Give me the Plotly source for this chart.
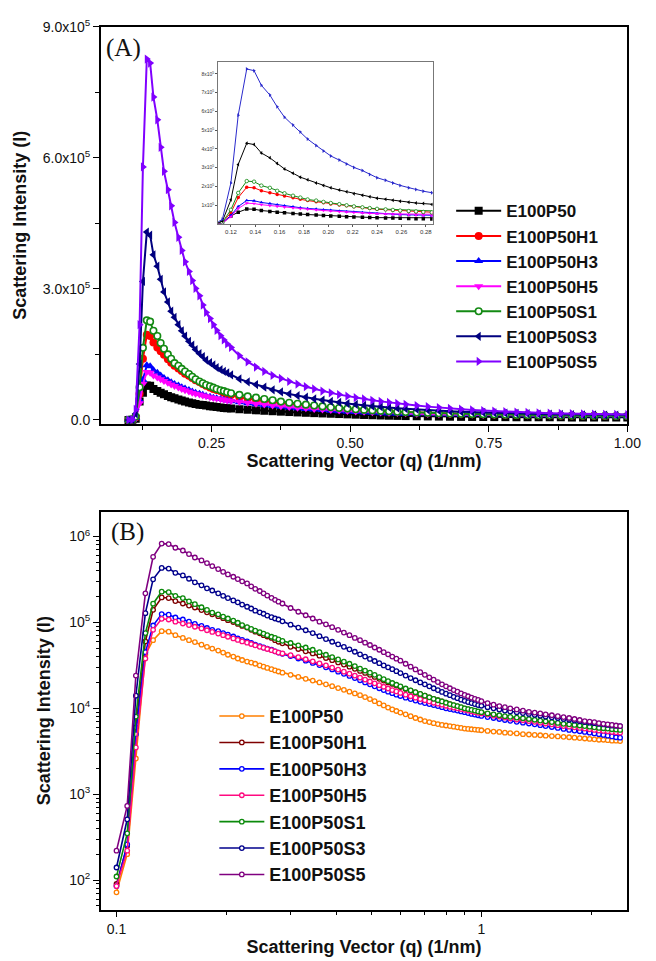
import plotly.graph_objects as go

# ---------------- data ----------------
Q = [0.100, 0.107, 0.113, 0.120, 0.126, 0.133, 0.139, 0.145, 0.152, 0.158,
     0.164, 0.171, 0.177, 0.183, 0.190, 0.196, 0.202, 0.209, 0.215, 0.221,
     0.228, 0.234, 0.240, 0.247, 0.253, 0.259, 0.266, 0.272, 0.278, 0.285,
     0.300, 0.315, 0.330, 0.345, 0.360, 0.375, 0.390, 0.405, 0.420, 0.435,
     0.450, 0.465, 0.480, 0.495, 0.510, 0.525, 0.540, 0.555, 0.570, 0.585,
     0.600, 0.620, 0.640, 0.660, 0.680, 0.700, 0.720, 0.740, 0.760, 0.780,
     0.800, 0.820, 0.840, 0.860, 0.880, 0.900, 0.920, 0.940, 0.960, 0.980,
     1.000,
     1.04, 1.08, 1.12, 1.16, 1.20, 1.25, 1.30, 1.35, 1.40, 1.45,
     1.50, 1.56, 1.62, 1.68, 1.74, 1.80, 1.86, 1.92, 1.98, 2.04,
     2.10, 2.16, 2.22, 2.28, 2.34, 2.40]

# intensities in thousands of counts
I_E100P50 = [0.072, 0.2, 2.6, 42, 62, 79, 78, 71, 66, 62,
             59, 55, 52, 49.5, 47, 44.5, 42, 40, 38, 36.5,
             35, 34, 33, 31.5, 30.5, 29.5, 28.5, 27.6, 26.8, 26,
             24.5, 23.2, 22, 21, 20, 19, 18.1, 17.2, 16.4, 15.6,
             14.9, 14.2, 13.5, 12.8, 12.1, 11.4, 10.8, 10.2, 9.7, 9.3,
             8.9, 8.5, 8.1, 7.7, 7.4, 7.1, 6.9, 6.7, 6.55, 6.4,
             6.3, 6.2, 6.1, 6.0, 5.9, 5.8, 5.75, 5.7, 5.65, 5.6,
             5.55,
             5.45, 5.35, 5.3, 5.2, 5.15, 5.1, 5.0, 4.95, 4.9, 4.85,
             4.8, 4.75, 4.7, 4.65, 4.6, 4.55, 4.5, 4.45, 4.4, 4.35,
             4.3, 4.3, 4.25, 4.2, 4.2, 4.15]
I_H1 = [0.09, 0.25, 6, 60, 140, 195, 192, 177, 166, 157,
        149, 139, 131, 124, 118, 112, 106, 101, 96, 91,
        87, 82, 78, 74.5, 71, 68.5, 66, 62, 59.5, 57,
        52, 49, 46, 43.5, 41, 38.5, 36.3, 34.2, 32.3, 30.5,
        28.8, 27.2, 25.8, 24.5, 23.2, 22, 21, 20, 19.2, 18.4,
        17.7, 16.8, 16, 15.3, 14.6, 14, 13.4, 12.9, 12.4, 12,
        11.6, 11.2, 10.8, 10.5, 10.2, 9.9, 9.7, 9.5, 9.3, 9.1,
        8.9,
        8.6, 8.35, 8.1, 7.9, 7.7, 7.5, 7.35, 7.2, 7.05, 6.9,
        6.75, 6.6, 6.45, 6.3, 6.2, 6.1, 6.0, 5.9, 5.8, 5.7,
        5.65, 5.6, 5.5, 5.45, 5.4, 5.35]
I_H3 = [0.085, 0.26, 5, 45, 92, 125, 123, 114, 108, 102,
        96, 91, 86, 82, 79, 75, 72, 68.5, 65, 62.5,
        60, 57.5, 55, 53, 51, 49.5, 48, 46, 44.5, 43,
        40.5, 38, 35.8, 33.7, 31.8, 30, 28.3, 26.7, 25.2, 23.8,
        22.5, 21.2, 20, 19, 18, 17.1, 16.3, 15.6, 15, 14.4,
        13.9, 13.3, 12.8, 12.3, 11.9, 11.5, 11.2, 10.9, 10.6, 10.3,
        10.0, 9.8, 9.6, 9.4, 9.2, 9.0, 8.8, 8.6, 8.45, 8.3,
        8.15,
        7.9, 7.7, 7.5, 7.3, 7.15, 6.95, 6.8, 6.65, 6.5, 6.35,
        6.2, 6.05, 5.9, 5.75, 5.6, 5.5, 5.4, 5.3, 5.2, 5.1,
        5.0, 4.9, 4.8, 4.7, 4.6, 4.55]
I_H5 = [0.085, 0.22, 3.5, 38, 82, 110, 108, 102, 97, 93,
        89, 85, 81, 77.5, 74, 71, 68, 65, 62.5, 60,
        58, 56, 54, 52, 50.5, 49, 47.5, 46, 44.5, 43.5,
        41.5, 39.3, 37.2, 35.2, 33.3, 31.5, 29.8, 28.2, 26.7, 25.3,
        24, 22.8, 21.6, 20.5, 19.5, 18.6, 17.8, 17, 16.3, 15.7,
        15.1, 14.4, 13.8, 13.3, 12.8, 12.4, 12, 11.6, 11.3, 11,
        10.7, 10.4, 10.2, 10, 9.8, 9.6, 9.4, 9.2, 9.0, 8.85,
        8.7,
        8.45, 8.2, 8.0, 7.8, 7.6, 7.4, 7.25, 7.1, 6.95, 6.8,
        6.65, 6.5, 6.35, 6.2, 6.1, 6.0, 5.9, 5.8, 5.7, 5.6,
        5.5, 5.45, 5.4, 5.3, 5.25, 5.2]
I_S1 = [0.11, 0.35, 8, 75, 165, 228, 225, 204, 192, 176,
        163, 150, 140, 130, 124, 117, 111, 105, 99, 93,
        88, 84, 80, 77, 74, 71, 68, 66, 63.5, 61,
        57.5, 54, 51, 48, 45, 42, 39.5, 37, 35, 33,
        31, 29, 27.5, 26, 24.5, 23, 21.8, 20.7, 19.7, 18.8,
        18, 17, 16.2, 15.4, 14.7, 14, 13.4, 12.9, 12.4, 12,
        11.6, 11.2, 10.9, 10.6, 10.3, 10.0, 9.8, 9.6, 9.4, 9.2,
        9.0,
        8.7, 8.5, 8.3, 8.1, 7.95, 7.8, 7.65, 7.5, 7.35, 7.2,
        7.05, 6.9, 6.75, 6.6, 6.5, 6.4, 6.3, 6.2, 6.1, 6.0,
        5.9, 5.85, 5.8, 5.7, 5.65, 5.6]
I_S3 = [0.14, 0.51, 14, 128, 317, 430, 423, 378, 352, 322,
        293, 270, 249, 235, 218, 204, 192, 180, 171, 161,
        152, 145, 137, 131, 126, 120, 115, 111, 108, 103,
        94, 87, 81, 75, 69, 64, 59.5, 55.5, 52, 48.5,
        45.5, 42.5, 40, 37.5, 35.5, 33.5, 31.5, 30, 28.5, 27,
        25.7, 24, 22.5, 21.2, 20, 19, 18, 17.1, 16.3, 15.5,
        14.8, 14.2, 13.6, 13.1, 12.6, 12.2, 11.8, 11.5, 11.2, 10.9,
        10.7,
        10.3, 10.0, 9.7, 9.4, 9.2, 9.0, 8.8, 8.6, 8.4, 8.2,
        8.0, 7.85, 7.7, 7.5, 7.35, 7.2, 7.05, 6.9, 6.8, 6.7,
        6.6, 6.5, 6.4, 6.3, 6.25, 6.2]
I_S5 = [0.22, 0.73, 24, 218, 579, 826, 817, 739, 687, 624,
        569, 527, 490, 452, 418, 388, 362, 340, 319, 301,
        284, 263, 246, 232, 218, 205, 193, 183, 174, 166,
        147, 133, 121, 111, 102, 95, 88, 82, 76, 71,
        66, 62, 58, 54.5, 51, 48, 45, 42.5, 40, 37.8,
        35.8, 33, 30.5, 28.3, 26.3, 24.5, 22.9, 21.5, 20.2, 19.0,
        18.0, 17.1, 16.3, 15.6, 14.9, 14.3, 13.8, 13.3, 12.9, 12.5,
        12.1,
        11.5, 11.0, 10.6, 10.3, 10.0, 9.7, 9.4, 9.1, 8.9, 8.7,
        8.5, 8.3, 8.1, 7.9, 7.7, 7.5, 7.3, 7.1, 7.0, 6.9,
        6.7, 6.6, 6.5, 6.4, 6.3, 6.2]

NAMES = ["E100P50", "E100P50H1", "E100P50H3", "E100P50H5",
         "E100P50S1", "E100P50S3", "E100P50S5"]
VALUES = [I_E100P50, I_H1, I_H3, I_H5, I_S1, I_S3, I_S5]
for v in VALUES:
    assert len(v) == len(Q), len(v)

# ---------------- styles ----------------
COL_A = ["#000000", "#ff0000", "#0000ff", "#ff00ff", "#138a13", "#00007f", "#8000ff"]
SYM_A = ["square", "circle", "triangle-up", "triangle-down", "circle", "triangle-left", "triangle-right"]
FILL_A = [None, None, None, None, "white", None, None]
SIZE_A = [8, 8, 8, 8, 6.5, 8, 8]
COL_IN = ["#000000", "#ff0000", "#0000ff", "#ff00ff", "#138a13", "#000000", "#2a2acc"]
COL_B = ["#ff7f00", "#7f0000", "#0000ff", "#ff0a80", "#0b8a0b", "#00008c", "#800080"]

W, H = 656, 961
def px_x(p):
    return p / W
def px_y(p):
    return 1 - p / H

FONT = "Arial, Liberation Sans, sans-serif"
SERIF = "Times New Roman, Liberation Serif, serif"

fig = go.Figure()

# panel A
for name, vals, c, s, f, sz in zip(NAMES, VALUES, COL_A, SYM_A, FILL_A, SIZE_A):
    y = [v * 1000 for v in vals]
    fig.add_trace(go.Scatter(
        x=Q, y=y, name=name, mode="lines+markers",
        line=dict(color=c, width=2),
        marker=dict(symbol=s, size=sz, color=f if f else c,
                    line=dict(color=c, width=1.6 if f else 0)),
        xaxis="x", yaxis="y", legend="legend"))

# inset
for name, vals, c, s, f in zip(NAMES, VALUES, COL_IN, SYM_A, FILL_A):
    y = [v * 1000 for v in vals]
    fig.add_trace(go.Scatter(
        x=Q, y=y, name=name, mode="lines+markers", showlegend=False,
        line=dict(color=c, width=1),
        marker=dict(symbol=s, size=3.5, color=f if f else c,
                    line=dict(color=c, width=0.8 if f else 0)),
        xaxis="x2", yaxis="y2"))

# panel B
for name, vals, c in zip(NAMES, VALUES, COL_B):
    y = [v * 1000 for v in vals]
    fig.add_trace(go.Scatter(
        x=Q, y=y, name=name, mode="lines+markers",
        line=dict(color=c, width=1.6),
        marker=dict(symbol="circle", size=4.5, color="white",
                    line=dict(color=c, width=1.3)),
        xaxis="x3", yaxis="y3", legend="legend2"))

axis_common = dict(showline=True, mirror=True, linecolor="black", linewidth=1.5,
                   showgrid=False, zeroline=False, ticks="outside", ticklen=6,
                   tickwidth=1.3, tickcolor="black",
                   tickfont=dict(family=FONT, size=14, color="#111"))

title_font = dict(family=FONT, size=18, color="#111")

minor_y_log = [m * 10 ** e for e in range(1, 7) for m in range(2, 10)
               if 45 <= m * 10 ** e <= 2e6]

fig.update_layout(
    width=W, height=H, margin=dict(l=0, r=0, t=0, b=0),
    paper_bgcolor="white", plot_bgcolor="white",
    xaxis=dict(axis_common, domain=[px_x(103), px_x(641)], anchor="y",
               range=[0.05, 1.0],
               tickvals=[0.25, 0.5, 0.75, 1.0], ticktext=["0.25", "0.50", "0.75", "1.00"],
               minor=dict(tickvals=[0.125, 0.375, 0.625, 0.875], ticks="outside",
                          ticklen=4, tickcolor="black"),
               title=dict(text="<b>Scattering Vector (q) (1/nm)</b>", font=title_font,
                          standoff=4)),
    yaxis=dict(axis_common, domain=[px_y(420), px_y(17)], anchor="x",
               range=[-9000, 9.0e5],
               tickvals=[0, 3e5, 6e5, 9e5],
               ticktext=["0.0", "3.0x10<sup>5</sup>", "6.0x10<sup>5</sup>", "9.0x10<sup>5</sup>"],
               minor=dict(tickvals=[1.5e5, 4.5e5, 7.5e5], ticks="outside",
                          ticklen=4, tickcolor="black"),
               title=dict(text="<b>Scattering Intensity (I)</b>", font=title_font,
                          standoff=11)),
    xaxis2=dict(showline=True, mirror=True, linecolor="#777", linewidth=1,
                showgrid=False, zeroline=False, ticks="outside", ticklen=2,
                tickcolor="#555", domain=[px_x(223), px_x(442)], anchor="y2",
                range=[0.1096, 0.2856],
                tickvals=[0.12, 0.14, 0.16, 0.18, 0.20, 0.22, 0.24, 0.26, 0.28],
                ticktext=["0.12", "0.14", "0.16", "0.18", "0.20", "0.22", "0.24", "0.26", "0.28"],
                tickfont=dict(family=FONT, size=6, color="#333")),
    yaxis2=dict(showline=True, mirror=True, linecolor="#777", linewidth=1,
                showgrid=False, zeroline=False, ticks="outside", ticklen=2,
                tickcolor="#555", domain=[px_y(217), px_y(53)], anchor="x2",
                range=[0, 8.62e5],
                tickvals=[1e5, 2e5, 3e5, 4e5, 5e5, 6e5, 7e5, 8e5],
                ticktext=["%dx10<sup>5</sup>" % k for k in range(1, 9)],
                tickfont=dict(family=FONT, size=5, color="#333")),
    xaxis3=dict(axis_common, type="log", domain=[px_x(103), px_x(641)], anchor="y3",
                range=[-1.043, 0.40],
                tickvals=[0.1, 1], ticktext=["0.1", "1"],
                minor=dict(tickvals=[0.2, 0.3, 0.4, 0.5, 0.6, 0.7, 0.8, 0.9, 2],
                           ticks="outside", ticklen=4, tickcolor="black"),
                title=dict(text="<b>Scattering Vector (q) (1/nm)</b>", font=title_font,
                           standoff=4)),
    yaxis3=dict(axis_common, type="log", domain=[px_y(913), px_y(509)], anchor="x3",
                range=[1.655, 6.29],
                tickvals=[1e2, 1e3, 1e4, 1e5, 1e6],
                ticktext=["10<sup>2</sup>", "10<sup>3</sup>", "10<sup>4</sup>",
                          "10<sup>5</sup>", "10<sup>6</sup>"],
                minor=dict(tickvals=minor_y_log, ticks="outside", ticklen=3,
                           tickcolor="black"),
                title=dict(text="<b>Scattering Intensity (I)</b>", font=title_font,
                           standoff=14)),
    legend=dict(x=px_x(461), y=px_y(186), xanchor="left", yanchor="top",
                bgcolor="rgba(0,0,0,0)", borderwidth=0, itemwidth=45,
                font=dict(family=FONT, size=17, color="#111"),
                tracegroupgap=0),
    legend2=dict(x=px_x(219), y=px_y(698), xanchor="left", yanchor="top",
                 bgcolor="rgba(0,0,0,0)", borderwidth=0, itemwidth=45,
                 font=dict(family=FONT, size=18, color="#111"),
                 tracegroupgap=0),
    annotations=[
        dict(text="(A)", x=px_x(106), y=px_y(39), xref="paper", yref="paper",
             xanchor="left", yanchor="middle", showarrow=False,
             font=dict(family=SERIF, size=25, color="#111")),
        dict(text="(B)", x=px_x(111), y=px_y(530), xref="paper", yref="paper",
             xanchor="left", yanchor="middle", showarrow=False,
             font=dict(family=SERIF, size=25, color="#111")),
    ],
)

# bold legend labels
for tr in fig.data:
    tr.name = "<b>%s</b>" % tr.name

fig.write_html("out.html", config={"displayModeBar": False},
               post_script="document.body.style.margin='0px';"
                           "document.body.style.overflow='hidden';")
